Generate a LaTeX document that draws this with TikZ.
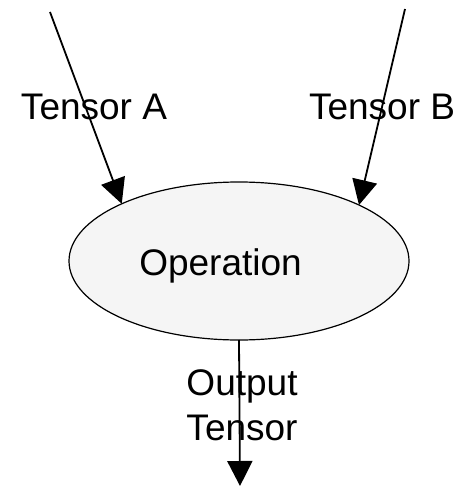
\documentclass[tikz,border=0pt]{standalone}
\usepackage{fontspec}
\setmainfont{Liberation Sans}
\usetikzlibrary{shapes.geometric,arrows.meta}
\begin{document}
\begin{tikzpicture}[x=1pt,y=-1pt,
  opshape/.style={ellipse,draw=black,line width=1.2pt,fill=black!4,
    minimum width=340pt,minimum height=158pt,inner sep=0pt,outer sep=0pt},
  lbl/.style={font=\fontsize{37}{45}\selectfont,inner sep=0pt,anchor=base,align=center},
  flow/.style={line width=1.8pt,-{Triangle[length=25pt,width=25pt]}}]
  \useasboundingbox (0,0) rectangle (460,486);
  % operation node and its caption
  \node[opshape] (op) at (239,261) {};
  \node[lbl] (opText) at (220.5,275) {Operation};
  % loose ends of the tensors
  \coordinate (inA) at (50,12);
  \coordinate (inB) at (405,9);
  \coordinate (out) at (240,486);
  % edges
  \draw[flow] (inA) -- (op.154);
  \draw[flow] (inB) -- (op.25.6);
  \draw[flow] (op.south) -- (out);
  % edge labels
  \node[lbl] (labA) at (94,120) {Tensor A};
  \node[lbl] (labB) at (382,120) {Tensor B};
  \node[lbl] (labOut) at (242,440) {Output\\Tensor};
\end{tikzpicture}
\end{document}
